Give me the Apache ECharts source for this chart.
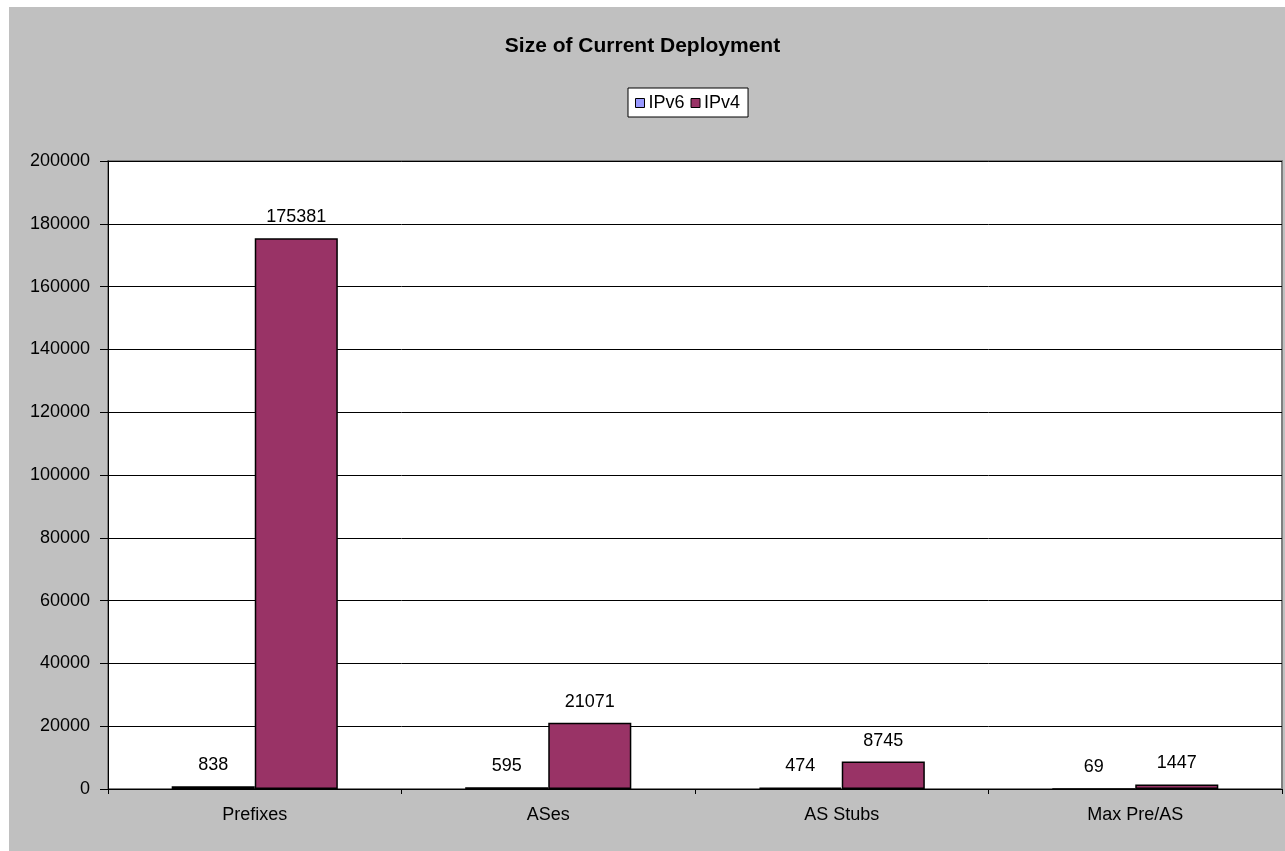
<!DOCTYPE html>
<html><head><meta charset="utf-8">
<script src="https://cdn.jsdelivr.net/npm/echarts@6/dist/echarts.min.js"></script>
<style>html,body{margin:0;padding:0;background:#fff;}#c{width:1285px;height:851px;}</style>
</head><body><div id="c"></div>
<script>
const categories = ['Prefixes', 'ASes', 'AS Stubs', 'Max Pre/AS'];
const ipv6 = [838, 595, 474, 69];
const ipv4 = [175381, 21071, 8745, 1447];
const yTicks = [0, 20000, 40000, 60000, 80000, 100000, 120000, 140000, 160000, 180000, 200000];

const chart = echarts.init(document.getElementById('c'), null, {renderer: 'canvas'});
const font = 'Liberation Sans, Arial, sans-serif';
const lbl = {show: true, position: 'top', color: '#000', fontSize: 18, fontFamily: font, distance: 12};
chart.setOption({
  animation: false,
  textStyle: {fontFamily: font},
  graphic: [
    {type: 'rect', z: -10, shape: {x: 9, y: 7, width: 1276, height: 844}, style: {fill: '#C0C0C0'}},
    {type: 'rect', z: -9, shape: {x: 108, y: 161, width: 1174, height: 628}, style: {fill: '#fff', stroke: '#808080', lineWidth: 2}}
  ],
  title: {text: 'Size of Current Deployment', left: 'center', top: 31,
    textStyle: {fontSize: 21, fontWeight: 'bold', color: '#000', fontFamily: font}},
  legend: {top: 88, left: 628, data: ['IPv6', 'IPv4'], backgroundColor: '#fff', borderColor: '#000', borderWidth: 1,
    padding: [6, 8, 5, 7], itemWidth: 9, itemHeight: 9, itemGap: 6, icon: 'rect',
    itemStyle: {borderColor: '#000', borderWidth: 1},
    textStyle: {fontSize: 18, color: '#000', fontFamily: font, padding: [0, 0, 0, -1]}},
  grid: {left: 108, right: 3, top: 161, bottom: 62, containLabel: false},
  xAxis: {type: 'category', data: categories,
    axisLine: {lineStyle: {color: '#000', width: 1}},
    axisTick: {show: true, length: 5, lineStyle: {color: '#000'}},
    axisLabel: {color: '#000', fontSize: 18, fontFamily: font, margin: 17},
    splitLine: {show: false}},
  yAxis: {type: 'value', min: yTicks[0], max: yTicks[yTicks.length - 1], interval: yTicks[1] - yTicks[0],
    axisLine: {show: true, lineStyle: {color: '#000'}},
    axisTick: {show: true, length: 8, lineStyle: {color: '#000'}},
    axisLabel: {color: '#000', fontSize: 18, fontFamily: font, margin: 18, formatter: v => String(v)},
    splitLine: {show: true, lineStyle: {color: '#000', width: 1}}},
  series: [
    {name: 'IPv6', type: 'bar', data: ipv6, barWidth: '28.3%', barGap: '0%',
      itemStyle: {color: '#9999FF', borderColor: '#000', borderWidth: 1.5}, label: lbl},
    {name: 'IPv4', type: 'bar', data: ipv4, barWidth: '28.3%', barGap: '0%',
      itemStyle: {color: '#993366', borderColor: '#000', borderWidth: 1.5}, label: lbl}
  ]
});
</script></body></html>
